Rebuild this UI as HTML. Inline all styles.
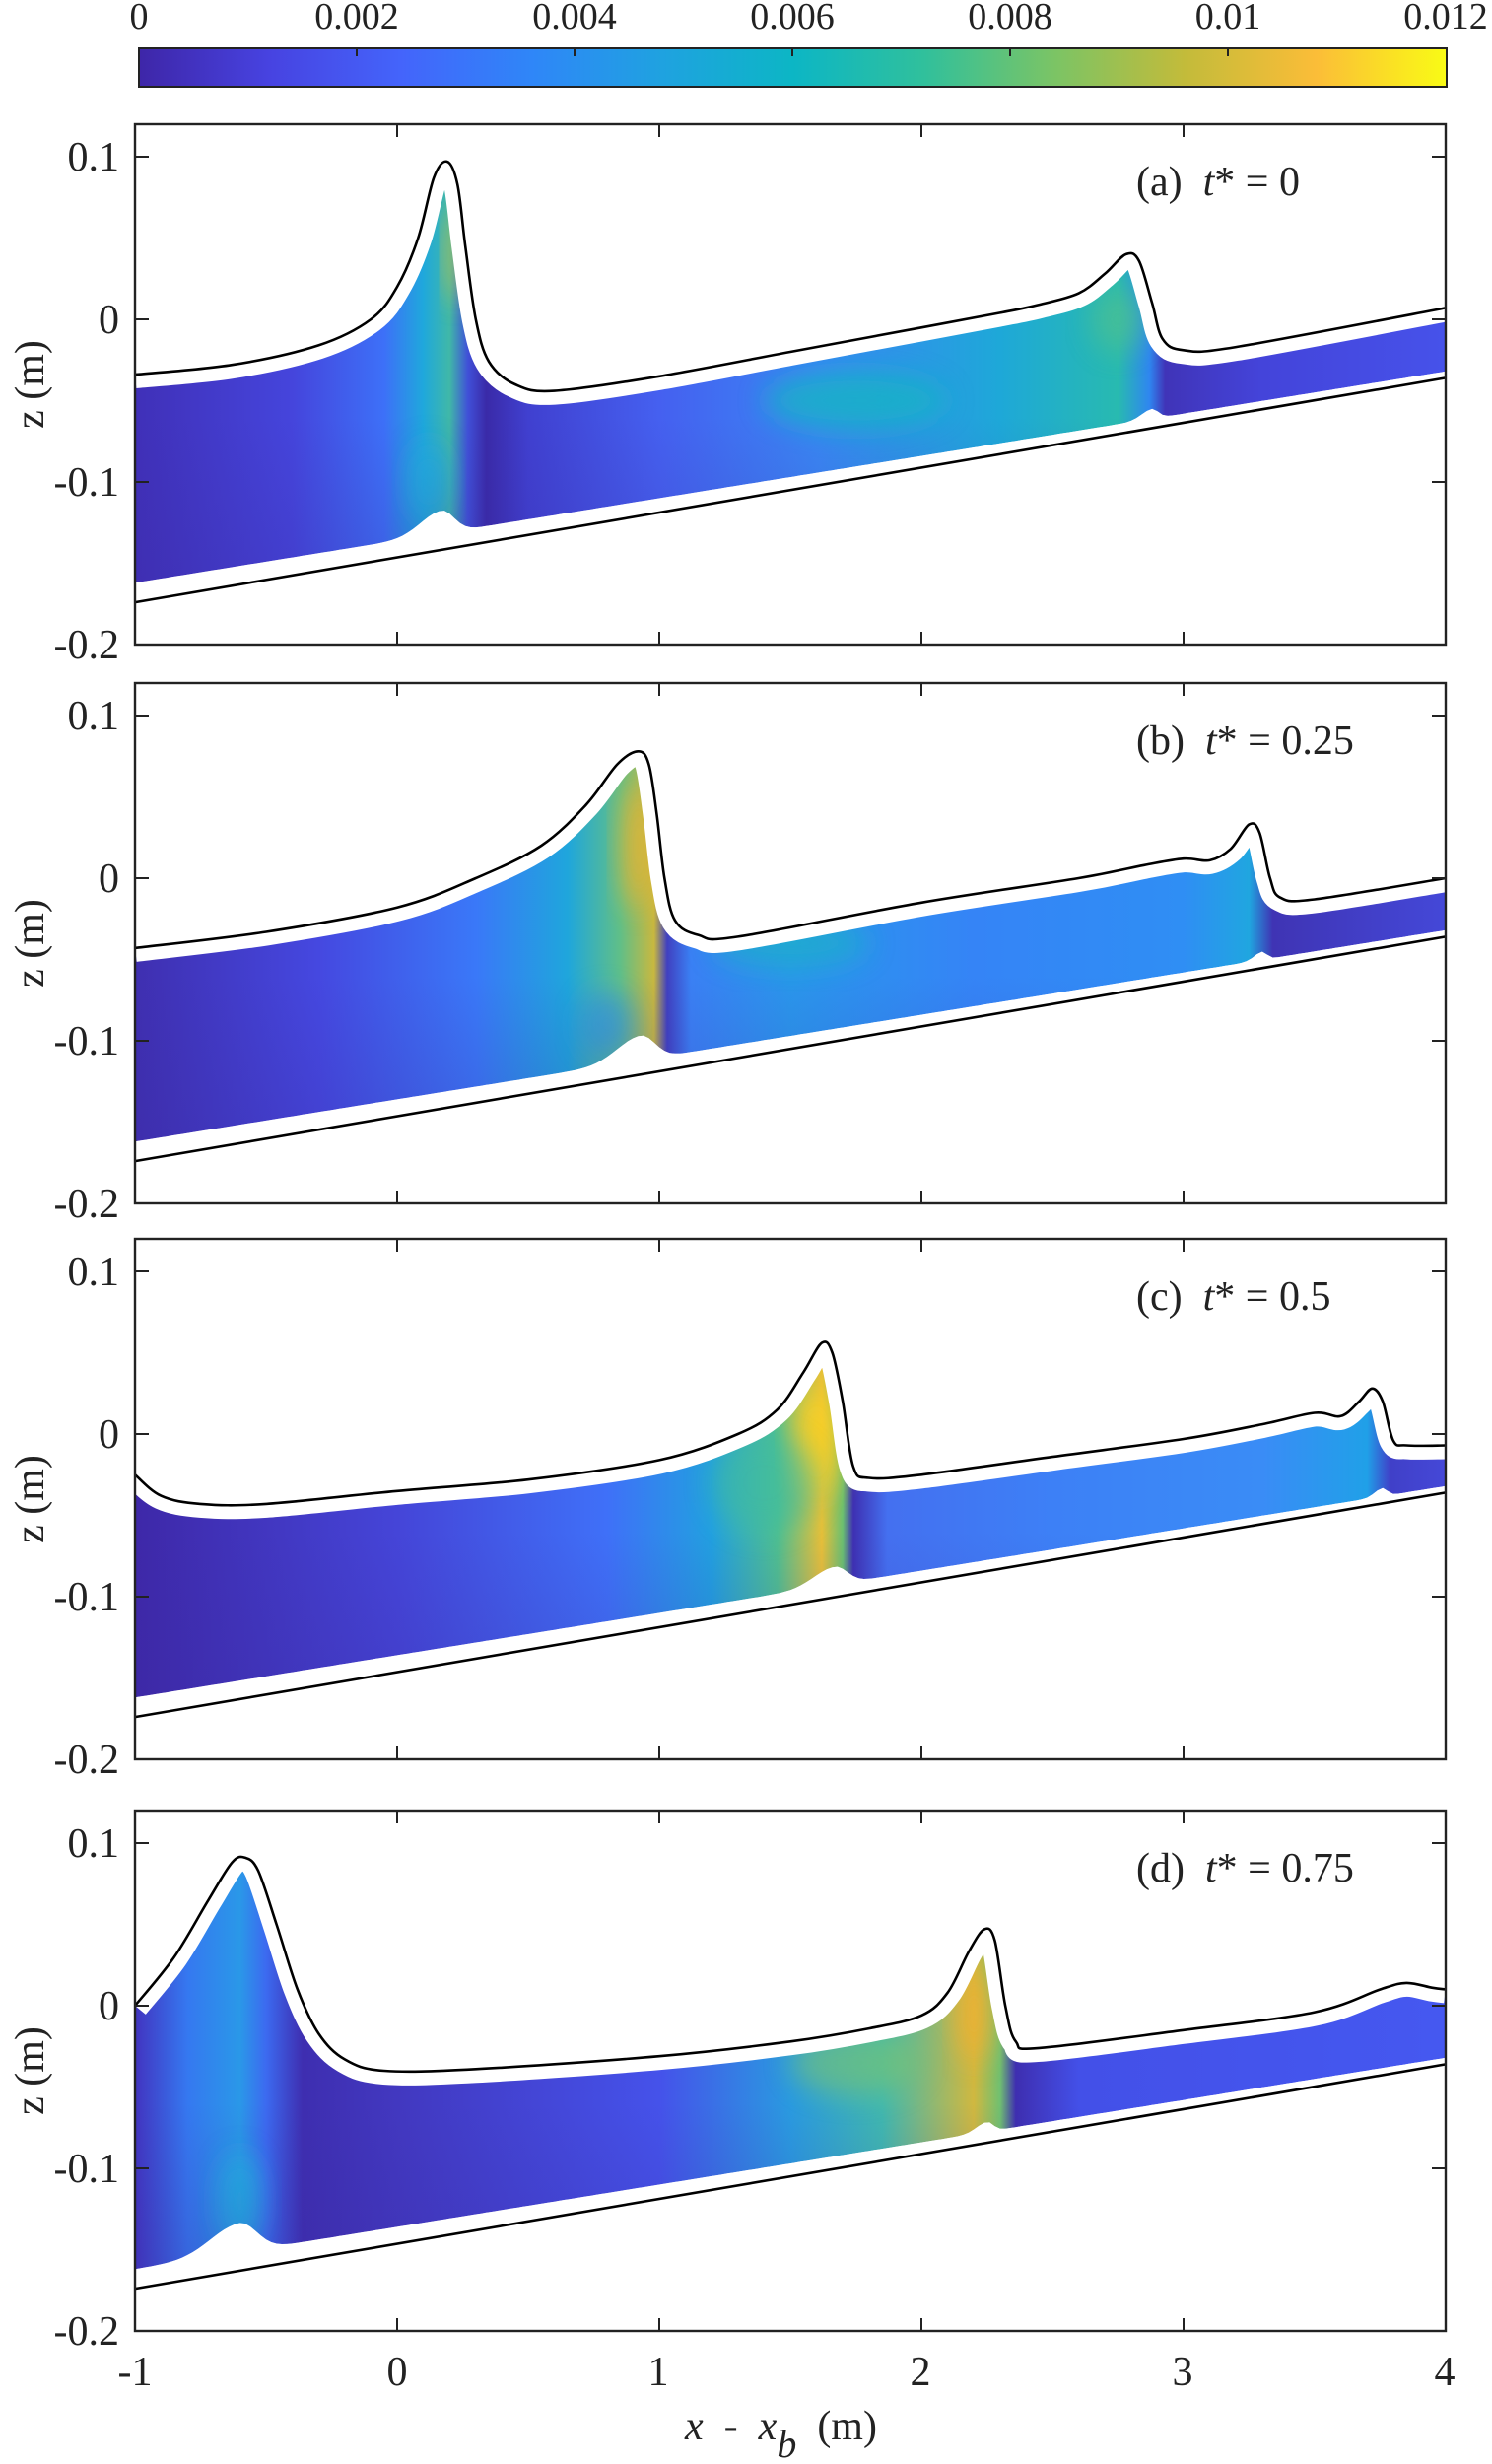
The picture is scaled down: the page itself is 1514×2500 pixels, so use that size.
<!DOCTYPE html>
<html><head><meta charset="utf-8">
<style>
html,body{margin:0;padding:0;background:#fff;}
svg{display:block;}
</style></head>
<body>
<svg id="s" width="1514" height="2500" viewBox="0 0 1514 2500" xmlns="http://www.w3.org/2000/svg" font-family="'Liberation Serif','DejaVu Serif',serif">
<defs>
<linearGradient id="cb" x1="0" x2="1" y1="0" y2="0">
<stop offset="0" stop-color="#3e26a8"/><stop offset="0.1" stop-color="#4743e1"/>
<stop offset="0.2" stop-color="#4464fb"/><stop offset="0.3" stop-color="#2f86f8"/>
<stop offset="0.4" stop-color="#1fa2e0"/><stop offset="0.5" stop-color="#0cb6c5"/>
<stop offset="0.6" stop-color="#30c09c"/><stop offset="0.7" stop-color="#7bc465"/>
<stop offset="0.8" stop-color="#c3bb3a"/><stop offset="0.9" stop-color="#fbbd38"/>
<stop offset="1" stop-color="#f9fb15"/>
</linearGradient>
<filter id="bl" x="-50%" y="-50%" width="200%" height="200%"><feGaussianBlur stdDeviation="14"/></filter>
<linearGradient id="vd" x1="0" x2="0" y1="0" y2="1">
<stop offset="0" stop-color="#3a2aa0" stop-opacity="0"/>
<stop offset="1" stop-color="#3a2aa0" stop-opacity="0.3"/>
</linearGradient>
</defs>
<rect x="141" y="49" width="1327" height="39" fill="url(#cb)" stroke="#222" stroke-width="2"/>
<g font-size="38" text-anchor="middle" fill="#222" font-family="'Liberation Serif','DejaVu Serif',serif">
<text x="141" y="29">0</text><text x="362" y="29">0.002</text><text x="583" y="29">0.004</text>
<text x="804" y="29">0.006</text><text x="1025" y="29">0.008</text><text x="1246" y="29">0.01</text><text x="1467" y="29">0.012</text>
</g>
<g stroke="#222" stroke-width="2">
<line x1="362" y1="49" x2="362" y2="57"/><line x1="583" y1="49" x2="583" y2="57"/><line x1="804" y1="49" x2="804" y2="57"/>
<line x1="1025" y1="49" x2="1025" y2="57"/><line x1="1246" y1="49" x2="1246" y2="57"/>
</g>
<g id="panels"></g>
<g font-size="42" text-anchor="middle" fill="#222" font-family="'Liberation Serif','DejaVu Serif',serif">
<text x="137" y="2420">-1</text><text x="403" y="2420">0</text><text x="668" y="2420">1</text>
<text x="934" y="2420">2</text><text x="1200" y="2420">3</text><text x="1466" y="2420">4</text>
</g>
<text x="695" y="2475" font-size="42" fill="#222" font-family="'Liberation Serif','DejaVu Serif',serif" xml:space="preserve"><tspan font-style="italic">x</tspan>  -  <tspan font-style="italic">x</tspan><tspan font-style="italic" font-size="40" dy="18">b</tspan><tspan dy="-18">  (m)</tspan></text>
</svg>
<script>
var X0=137,W=1330,TOPS=[126,693,1257,1837],H=528;
var FF="font-family=\"'Liberation Serif','DejaVu Serif',serif\" fill=\"#222\"";
function px(x){return X0+(x+1)*W/5;}
function py(t,z){return t+(0.12-z)/0.32*H;}
function spline(pts){
 var d="";
 for(var i=0;i<pts.length-1;i++){
  var p0=pts[i-1]||pts[i],p1=pts[i],p2=pts[i+1],p3=pts[i+2]||p2;
  var c1x=p1[0]+(p2[0]-p0[0])/6,c1y=p1[1]+(p2[1]-p0[1])/6;
  var c2x=p2[0]-(p3[0]-p1[0])/6,c2y=p2[1]-(p3[1]-p1[1])/6;
  d+=" C"+c1x.toFixed(1)+","+c1y.toFixed(1)+" "+c2x.toFixed(1)+","+c2y.toFixed(1)+" "+p2[0].toFixed(1)+","+p2[1].toFixed(1);
 }
 return d;
}
var P=[
{lab:"(a)",t:"0",
 s:[[-1,-0.034],[-0.63,-0.028],[-0.3,-0.016],[-0.1,0.0],[0,0.02],[0.08,0.05],[0.14,0.087],[0.19,0.097],[0.23,0.083],[0.26,0.045],[0.3,0.0],[0.35,-0.026],[0.45,-0.04],[0.6,-0.044],[1,-0.035],[1.5,-0.02],[2,-0.005],[2.3,0.004],[2.45,0.009],[2.6,0.016],[2.7,0.028],[2.78,0.04],[2.83,0.036],[2.88,0.01],[2.92,-0.012],[3.0,-0.019],[3.2,-0.017],[4,0.007]],
 b:[[0.17,0.014,0.16],[0.9,0,0.1],[2.88,0.006,0.08]],
 g:[[-1,"#4030b8"],[-0.4,"#4545dc"],[-0.05,"#3d70f8"],[0.1,"#1fa8dc"],[0.2,"#40b8a8"],[0.27,"#4050d8"],[0.34,"#3a2aa8"],[0.5,"#4040d0"],[1,"#4560f0"],[1.6,"#3a86f4"],[2.3,"#1ea8d8"],[2.75,"#28bab0"],[2.87,"#2f86f0"],[2.93,"#4034b8"],[3.3,"#4444da"],[4,"#4652ea"]],
 blobs:[[1.75,-0.05,0.35,0.018,"#18b4c4",0.8],[0.12,-0.1,0.07,0.025,"#20b0e0",0.9],[0.22,0.04,0.03,0.03,"#d0c040",0.9],[2.75,0.0,0.1,0.02,"#50c090",0.7]]},
{lab:"(b)",t:"0.25",
 s:[[-1,-0.043],[-0.5,-0.033],[0,-0.018],[0.3,0.0],[0.55,0.02],[0.72,0.045],[0.84,0.07],[0.92,0.078],[0.96,0.07],[0.99,0.04],[1.02,0.0],[1.06,-0.026],[1.15,-0.035],[1.3,-0.036],[2,-0.015],[2.6,0.0],[2.85,0.008],[3.0,0.012],[3.1,0.011],[3.18,0.018],[3.25,0.033],[3.29,0.028],[3.33,0.0],[3.37,-0.012],[3.5,-0.013],[4,0.0]],
 b:[[0.93,0.015,0.18],[3.3,0.005,0.06]],
 g:[[-1,"#3f2fb0"],[-0.3,"#4548e0"],[0.3,"#3a78f8"],[0.65,"#1fa6dc"],[0.85,"#60bf88"],[0.98,"#c8b840"],[1.03,"#4040c0"],[1.12,"#3a80f4"],[1.5,"#2a96ec"],[2.2,"#3584f6"],[3.0,"#2f8ef4"],[3.25,"#20a6e0"],[3.34,"#3f34b4"],[4,"#4448d8"]],
 blobs:[[0.92,0.02,0.06,0.04,"#e6b430",0.9],[1.5,-0.04,0.3,0.015,"#1ab0c8",0.7],[0.8,-0.09,0.1,0.02,"#2f90f0",0.6]]},
{lab:"(c)",t:"0.5",
 s:[[-1,-0.025],[-0.9,-0.038],[-0.75,-0.043],[-0.5,-0.043],[0,-0.035],[0.5,-0.028],[1,-0.016],[1.3,0.0],[1.45,0.015],[1.55,0.038],[1.62,0.056],[1.66,0.05],[1.7,0.02],[1.74,-0.02],[1.8,-0.027],[2,-0.025],[2.5,-0.014],[3,-0.003],[3.3,0.006],[3.5,0.013],[3.6,0.011],[3.67,0.02],[3.72,0.028],[3.76,0.02],[3.8,-0.004],[3.85,-0.007],[4,-0.007]],
 b:[[1.67,0.011,0.16],[3.76,0.005,0.06]],
 g:[[-1,"#3e28a8"],[0,"#4545d8"],[0.8,"#3f70f8"],[1.2,"#22a0e0"],[1.45,"#50c090"],[1.62,"#e8c038"],[1.7,"#6ac070"],[1.74,"#3e30b2"],[1.87,"#4470f0"],[2.5,"#3d80f6"],[3.3,"#3a8cf6"],[3.7,"#20a0e8"],[3.79,"#4040c8"],[4,"#4548d8"]],
 blobs:[[1.6,-0.005,0.08,0.035,"#f8d028",0.95],[1.4,-0.03,0.2,0.03,"#40bca0",0.6]]},
{lab:"(d)",t:"0.75",
 s:[[-1,0.0],[-0.85,0.03],[-0.72,0.065],[-0.63,0.088],[-0.58,0.091],[-0.53,0.083],[-0.46,0.05],[-0.38,0.01],[-0.3,-0.017],[-0.2,-0.033],[-0.05,-0.04],[0.3,-0.039],[1,-0.031],[1.5,-0.022],[1.8,-0.014],[2.0,-0.006],[2.1,0.008],[2.18,0.033],[2.24,0.047],[2.28,0.04],[2.32,0.0],[2.36,-0.022],[2.45,-0.026],[3,-0.015],[3.5,-0.004],[3.75,0.01],[3.85,0.014],[3.95,0.011],[4,0.01]],
 b:[[-0.6,0.018,0.22],[2.25,0.006,0.08]],
 g:[[-1,"#4234c0"],[-0.8,"#3578f0"],[-0.6,"#2a98e8"],[-0.5,"#3c6af0"],[-0.36,"#3e2eb0"],[0,"#4238c0"],[1,"#4552ea"],[1.5,"#2a9ae0"],[1.85,"#40b8b0"],[2.2,"#d0b840"],[2.3,"#70c070"],[2.36,"#3e2eb0"],[2.6,"#4350e8"],[4,"#4558f0"]],
 blobs:[[-0.6,-0.12,0.08,0.03,"#20b4e4",0.9],[2.2,-0.005,0.06,0.03,"#f0b030",0.9],[1.75,-0.035,0.25,0.02,"#7cc470",0.6]]}
];
var out="";
P.forEach(function(p,k){
 var T=TOPS[k];
 function bot(x){var z=-0.162+0.026*(x+1);p.b.forEach(function(b){var d=(x-b[0])/b[2];z+=b[1]*Math.exp(-d*d*(x>b[0]?6:2));});return z;}
 var sp=p.s.map(function(q){return [px(q[0]),py(T,q[1])];});
 var bp=[];for(var x=4;x>=-1.0001;x-=0.02)bp.push([px(x),py(T,bot(x))]);
 var fluid="M"+sp[0][0]+","+sp[0][1]+spline(sp)+" L"+bp.map(function(q){return q[0].toFixed(1)+","+q[1].toFixed(1);}).join(" L")+" Z";
 var surf="M"+sp[0][0]+","+sp[0][1]+spline(sp);
 out+='<linearGradient id="g'+k+'" gradientUnits="userSpaceOnUse" x1="'+px(-1)+'" x2="'+px(4)+'" y1="0" y2="0">';
 p.g.forEach(function(s){out+='<stop offset="'+((s[0]+1)/5).toFixed(4)+'" stop-color="'+s[1]+'"/>';});
 out+='</linearGradient><clipPath id="c'+k+'"><path d="'+fluid+'"/></clipPath>';
 out+='<g clip-path="url(#c'+k+')"><path d="'+fluid+'" fill="url(#g'+k+')"/>';
 p.blobs.forEach(function(b){out+='<ellipse cx="'+px(b[0])+'" cy="'+py(T,b[1])+'" rx="'+(b[2]*W/5)+'" ry="'+(b[3]/0.32*H)+'" fill="'+b[4]+'" opacity="'+b[5]+'" filter="url(#bl)"/>';});
 out+='<rect x="'+X0+'" y="'+py(T,-0.06)+'" width="'+W+'" height="'+(0.12/0.32*H)+'" fill="url(#vd)"/></g>';
 out+='<path d="'+surf+'" fill="none" stroke="#fff" stroke-width="28" stroke-linejoin="round"/>';
 out+='<path d="'+surf+'" fill="none" stroke="#000" stroke-width="2.6" stroke-linejoin="round"/>';
 out+='<line x1="'+px(-1)+'" y1="'+py(T,-0.174)+'" x2="'+px(4)+'" y2="'+py(T,-0.036)+'" stroke="#000" stroke-width="2.6"/>';
 out+='<rect x="'+X0+'" y="'+T+'" width="'+W+'" height="'+H+'" fill="none" stroke="#222" stroke-width="2.4"/>';
 for(var i=0;i<=5;i++){var xx=px(i-1);out+='<line x1="'+xx+'" y1="'+T+'" x2="'+xx+'" y2="'+(T+13)+'" stroke="#222" stroke-width="2"/><line x1="'+xx+'" y1="'+(T+H)+'" x2="'+xx+'" y2="'+(T+H-13)+'" stroke="#222" stroke-width="2"/>';}
 [0.1,0,-0.1,-0.2].forEach(function(z){var yy=py(T,z);out+='<line x1="'+X0+'" y1="'+yy+'" x2="'+(X0+14)+'" y2="'+yy+'" stroke="#222" stroke-width="2"/><line x1="'+(X0+W)+'" y1="'+yy+'" x2="'+(X0+W-14)+'" y2="'+yy+'" stroke="#222" stroke-width="2"/>';
  out+='<text '+FF+' x="121" y="'+(yy+14)+'" font-size="42" text-anchor="end">'+(z==0?"0":(z<0?"-":"")+Math.abs(z).toFixed(1))+'</text>';});
 out+='<text '+FF+' x="'+(-(T+H/2))+'" y="44" transform="rotate(-90)" font-size="42" text-anchor="middle">z (m)</text>';
 out+='<text '+FF+' x="1153" y="'+(T+72)+'" font-size="42" xml:space="preserve">'+p.lab+'  <tspan font-style="italic">t</tspan>* = '+p.t+'</text>';
});
document.getElementById("panels").innerHTML=out;
</script>
</body></html>
